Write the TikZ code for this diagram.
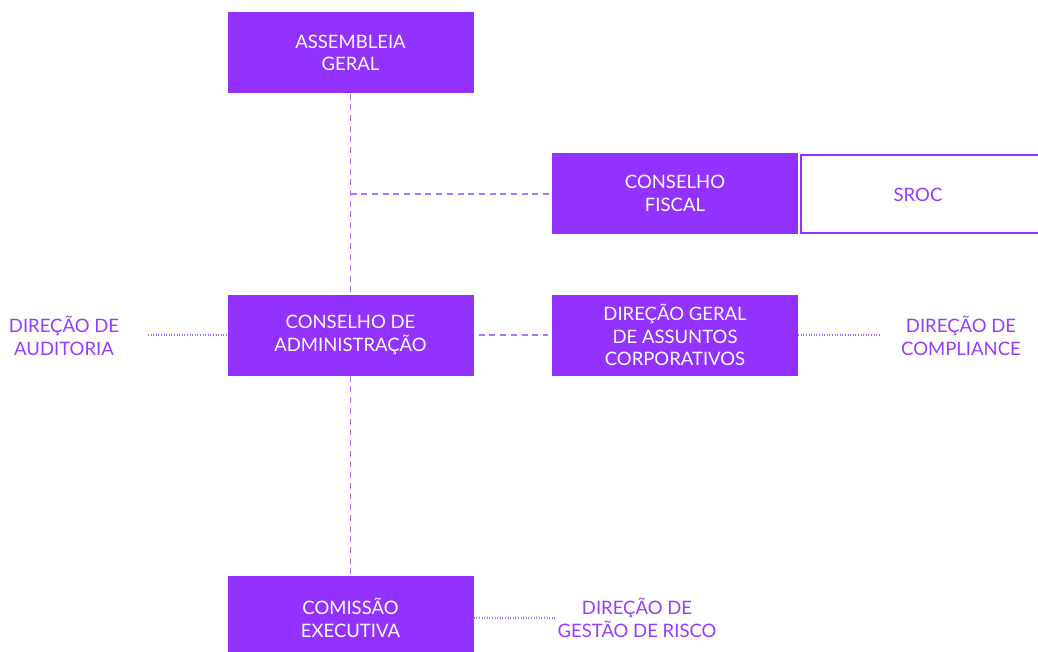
\documentclass[tikz,border=0pt]{standalone}
\usepackage{fontspec}
\setmainfont{Lato}
\definecolor{vio}{RGB}{147,50,255}
\definecolor{viotxt}{RGB}{150,60,255}
\begin{document}
\begin{tikzpicture}[x=1pt,y=-1pt,
  box/.style={fill=vio,draw=none,minimum width=246pt,minimum height=81pt,inner sep=0pt,
    text=white,align=center,font=\fontsize{18.5}{22.5}\selectfont},
  lbl/.style={text=viotxt,align=center,font=\fontsize{18.5}{22.5}\selectfont,inner sep=0pt},
  dashln/.style={draw=vio!70,line width=1.7pt,dash pattern=on 6pt off 4.7pt},
  dotln/.style={draw=vio!75,line width=1.2pt,dash pattern=on 1pt off 1.6pt}]
\useasboundingbox (0,0) rectangle (1038,652);
\begin{scope}
\clip (0,0) rectangle (1038,652);
\node[box] (ag) at (350.5,53) {ASSEMBLEIA\\GERAL};
\node[box] (cf) at (675,193.5) {CONSELHO\\FISCAL};
\node[draw=vio,line width=2pt,fill=white,minimum width=238pt,minimum height=78pt,inner sep=0pt] (sroc) at (920,194) {};
\node[lbl] (sroct) at (918,195) {SROC};
\node[box] (ca) at (350.5,335) {CONSELHO DE\\ADMINISTRAÇÃO};
\node[box] (dg) at (675,335) {DIREÇÃO GERAL\\DE ASSUNTOS\\CORPORATIVOS};
\node[box,minimum height=84pt] (ce) at (350.5,618) {COMISSÃO\\EXECUTIVA};
\end{scope}
\node[lbl] (da) at (64,336) {DIREÇÃO DE\\AUDITORIA};
\node[lbl] (dc) at (961,336) {DIREÇÃO DE\\COMPLIANCE};
\node[lbl] (dr) at (637,618) {DIREÇÃO DE\\GESTÃO DE RISCO};
\coordinate (j) at (350.5,194);
\coordinate (daR) at (148,335);
\coordinate (dcL) at (880,335);
\coordinate (drL) at (555,618);
\draw[dashln] (ag.south) -- (ca.north);
\draw[dashln] (ca.south) -- (350.5,576);
\draw[dashln] (j) -- (j -| cf.west);
\draw[dashln] ([xshift=5pt]ca.east) -- ([xshift=-4pt]dg.west);
\draw[dotln] (daR) -- (ca.west);
\draw[dotln] (dg.east) -- (dcL);
\draw[dotln] (ce.east) -- (drL);
\end{tikzpicture}
\end{document}
